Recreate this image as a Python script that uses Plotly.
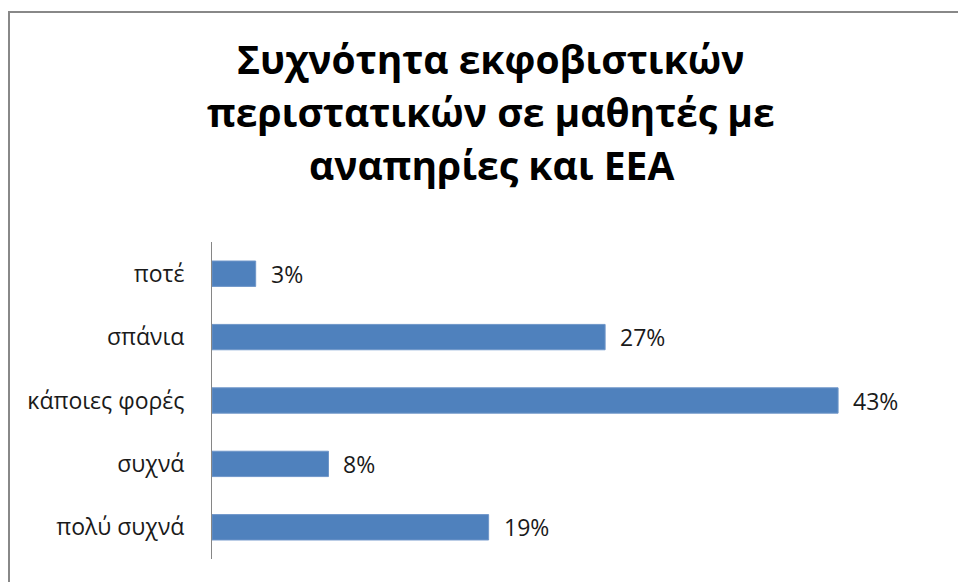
import plotly.graph_objects as go

# Survey answers, top to bottom as displayed
categories = ["ποτέ", "σπάνια", "κάποιες φορές", "συχνά", "πολύ συχνά"]
percentages = [3, 27, 43, 8, 19]
title_lines = [
    "Συχνότητα εκφοβιστικών",
    "περιστατικών σε μαθητές με",
    "αναπηρίες και ΕΕΑ",
]

W, H = 958, 582
L, R, T, B = 212, 18, 242, 23
plot_w = W - L - R
plot_h = H - T - B


def px_x(X):
    return (X - L) / plot_w


def px_y(Y):
    return (H - B - Y) / plot_h


BAR = "#4F81BD"
FONT = "Open Sans"
LABEL_SIZE = 23

fig = go.Figure()
fig.add_trace(go.Bar(
    y=categories,
    x=percentages,
    orientation="h",
    marker=dict(color=BAR, line=dict(color="#6F96C9", width=1)),
    hoverinfo="skip",
))

# value labels to the right of each bar
for cat, val in zip(categories, percentages):
    fig.add_annotation(
        x=val, y=cat, xref="x", yref="y",
        text=f"{val}%", showarrow=False,
        xanchor="left", xshift=13,
        font=dict(family=FONT, size=LABEL_SIZE, color="#1a1a1a"),
    )

# three-line bold title
for i, line in enumerate(title_lines):
    fig.add_annotation(
        x=px_x(491), y=px_y(77 + 53 * i), xref="paper", yref="paper",
        text=f"<b>{line}</b>", showarrow=False,
        xanchor="center", yanchor="bottom", yshift=-10,
        font=dict(family=FONT, size=39, color="#000000"),
    )

# chart-area border
fig.add_shape(
    type="rect", xref="paper", yref="paper",
    x0=px_x(9), x1=px_x(975), y0=px_y(600), y1=px_y(12),
    line=dict(color="#888888", width=2), fillcolor="rgba(0,0,0,0)",
    layer="below",
)

fig.update_layout(
    width=W, height=H,
    margin=dict(l=L, r=R, t=T, b=B, autoexpand=False),
    paper_bgcolor="white", plot_bgcolor="white",
    showlegend=False,
    bargap=0.6,
    font=dict(family=FONT, size=LABEL_SIZE, color="#1a1a1a"),
    xaxis=dict(range=[0, 50], visible=False, fixedrange=True),
    yaxis=dict(
        autorange="reversed",
        showline=True, linecolor="#868686", linewidth=1,
        ticks="", ticklabelstandoff=22,
        showgrid=False, zeroline=False,
        tickfont=dict(family=FONT, size=LABEL_SIZE, color="#1a1a1a"),
    ),
)

fig.write_html("out.html")
